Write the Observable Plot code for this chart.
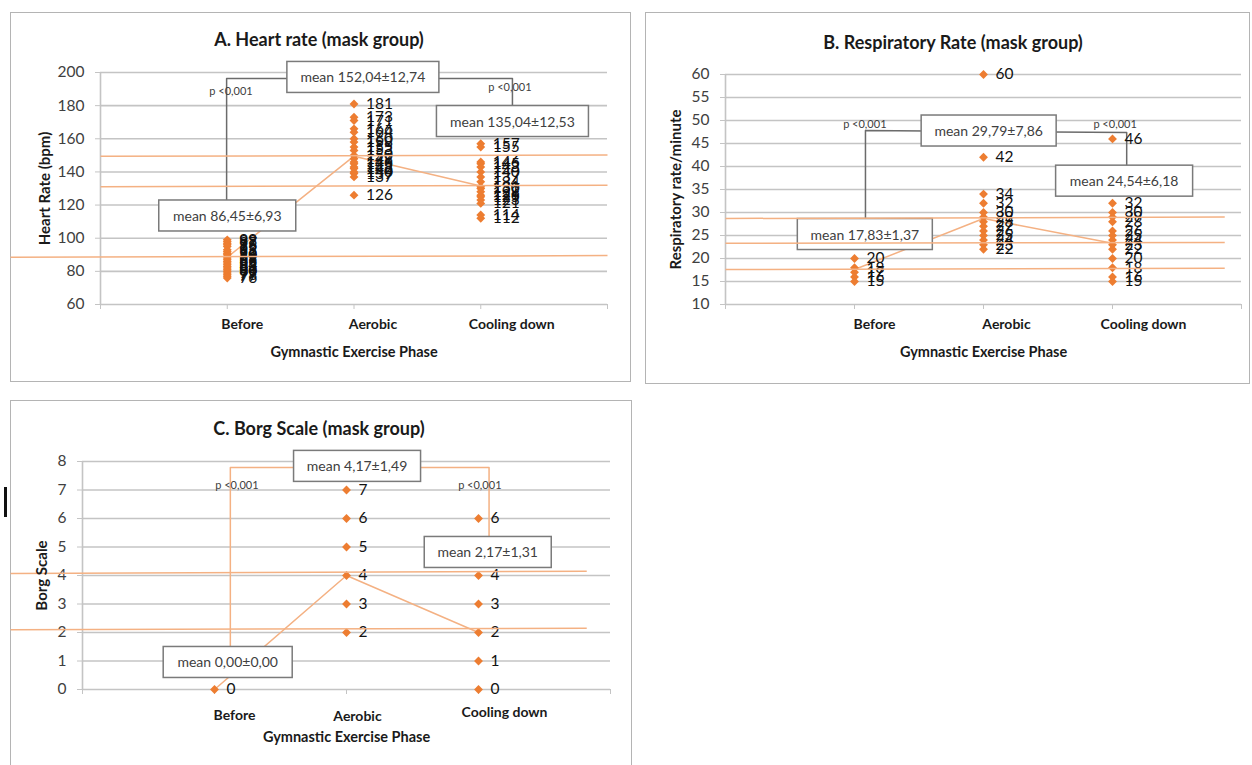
<!DOCTYPE html>
<html><head><meta charset="utf-8">
<script src="https://cdn.jsdelivr.net/npm/d3@7"></script>
<script src="https://cdn.jsdelivr.net/npm/@observablehq/plot@0.6"></script>
<style>
body{margin:0;background:#fff;}
#page{position:relative;width:1252px;height:765px;overflow:hidden;background:#fff;font-family:Lato, "Open Sans", sans-serif;}
.border{position:absolute;box-sizing:border-box;border:1.5px solid #b4b4b4;}
.title{position:absolute;font-weight:bold;font-size:18px;line-height:20px;color:#1a1a1a;white-space:nowrap;transform:translateX(-50%);}
.chart{position:absolute;}
.chart svg{overflow:visible;}
</style></head><body><div id="page"></div>
<script>
// ---------- data ----------
const phases = ["Before", "Aerobic", "Cooling down"];
const xTitle = "Gymnastic Exercise Phase";

// A. Heart rate
const hrBefore = [99, 98, 97, 96, 95, 93, 92, 91, 90, 89, 88, 87, 86, 85, 84, 83, 82, 81, 80, 79, 78, 77, 76];
const hrAerobic = [181, 173, 171, 166, 164, 160, 158, 155, 153, 150, 148, 146, 145, 143, 142, 140, 139, 137, 126];
const hrCooling = [157, 155, 146, 145, 143, 140, 137, 134, 131, 130, 128, 126, 125, 123, 121, 114, 112];
const hrMeans = ["mean 86,45±6,93", "mean 152,04±12,74", "mean 135,04±12,53"];
const hrTrend = [88.5, 149.5, 131.5];
const hrRefStart = [149.4, 131, 88.5];
const hrRefEnd = [150.2, 132, 89.5];
const hrTicks = [60, 80, 100, 120, 140, 160, 180, 200];

// B. Respiratory rate
const rrBefore = [20, 18, 17, 16, 15];
const rrAerobic = [60, 42, 34, 32, 30, 29, 28, 27, 26, 25, 24, 23, 22];
const rrCooling = [46, 32, 30, 29, 28, 26, 25, 24, 23, 22, 20, 18, 16, 15];
const rrMeans = ["mean 17,83±1,37", "mean 29,79±7,86", "mean 24,54±6,18"];
const rrTrend = [17.6, 28.7, 23.3];
const rrRefStart = [28.7, 23.3, 17.6];
const rrRefEnd = [29.0, 23.5, 17.9];
const rrTicks = [10, 15, 20, 25, 30, 35, 40, 45, 50, 55, 60];

// C. Borg scale
const borgBefore = [0];
const borgAerobic = [7, 6, 5, 4, 3, 2];
const borgCooling = [6, 4, 3, 2, 1, 0];
const borgMeans = ["mean 0,00±0,00", "mean 4,17±1,49", "mean 2,17±1,31"];
const borgTrend = [0, 4, 2];
const borgRefStart = [4.07, 2.1];
const borgRefEnd = [4.15, 2.15];
const borgTicks = [0, 1, 2, 3, 4, 5, 6, 7, 8];

const pText = "p <0,001";

// ---------- layout ----------
const ORANGE = "#ED7D31", LIGHT = "#F4B183", GRID = "#c4c4c4";
const panels = [
  {
    title: "A. Heart rate (mask group)", titleX: 319, titleY: 29,
    border: [10, 12, 621, 370],
    left: 10, top: 12, width: 621, height: 370,
    margin: [60, 24, 78, 90],
    yDomain: [60, 200], yTicks: hrTicks, yLabel: "Heart Rate (bpm)", yLabelDx: -55,
    series: [hrBefore, hrAerobic, hrCooling], means: hrMeans, trend: hrTrend,
    refStart: hrRefStart, refEnd: hrRefEnd, refX1: [0, 0, -0.71], refX2: [4, 4, 4],
    boxAt: [[1.0, 113.1], [2.07, 196.7], [3.25, 170.1]], boxW: [137, 152, 152],
    bracket: [[0.995, 113], [0.995, 196.4], [3.25, 196.4], [3.25, 170]], bracketColor: "#6b6b6b",
    pAt: [[1.03, 188.5], [3.23, 190.9]],
    catDx: [15, 19, 31], catDy: [24, 24, 24], xDy: 52
  },
  {
    title: "B. Respiratory Rate (mask group)", titleX: 953, titleY: 32,
    border: [645, 12, 605, 372],
    left: 645, top: 12, width: 605, height: 372,
    margin: [62, 9, 80, 80],
    yDomain: [10, 60], yTicks: rrTicks, yLabel: "Respiratory rate/minute", yLabelDx: -49,
    series: [rrBefore, rrAerobic, rrCooling], means: rrMeans, trend: rrTrend,
    refStart: rrRefStart, refEnd: rrRefEnd, refX1: [0, 0, 0], refX2: [3.87, 3.87, 3.87],
    boxAt: [[1.08, 25.1], [2.04, 47.6], [3.09, 36.7]], boxW: [135, 135, 137],
    bracket: [[1.085, 25], [1.085, 47.8], [3.11, 47.4], [3.11, 36.7]], bracketColor: "#6b6b6b",
    pAt: [[1.08, 49.1], [3.02, 49.1]],
    catDx: [20, 23, 31], catDy: [24, 24, 24], xDy: 52
  },
  {
    title: "C. Borg Scale (mask group)", titleX: 319, titleY: 418,
    border: [10, 400, 622, 370],
    left: 10, top: 400, width: 622, height: 365,
    margin: [61, 22, 76, 72],
    yDomain: [0, 8], yTicks: borgTicks, yLabel: "Borg Scale", yLabelDx: -40,
    series: [borgBefore, borgAerobic, borgCooling], means: borgMeans, trend: borgTrend,
    refStart: borgRefStart, refEnd: borgRefEnd, refX1: [-0.545, -0.545], refX2: [3.82, 3.82],
    boxAt: [[1.10, 0.93], [2.08, 7.81], [3.07, 4.79]], boxW: [129, 127, 127],
    bracket: [[1.12, 0.9], [1.12, 7.79], [3.08, 7.79], [3.08, 4.8]], bracketColor: LIGHT,
    pAt: [[1.17, 7.16], [3.01, 7.16]],
    catDx: [20, 11, 26], catDy: [30, 31, 27], xDy: 52
  }
];

const page = document.getElementById("page");

for (const cfg of panels) {
  const b = document.createElement("div");
  b.className = "border";
  Object.assign(b.style, {left: cfg.border[0] + "px", top: cfg.border[1] + "px", width: cfg.border[2] + "px", height: cfg.border[3] + "px"});
  page.appendChild(b);
}

for (const cfg of panels) {
  const pts = cfg.series.flatMap((vals, i) => vals.map(v => ({pos: i + 1, value: v})));
  const trend = cfg.trend.map((v, i) => ({pos: i + 1, value: v}));
  const refs = cfg.refStart.map((v, i) => ({x1: cfg.refX1[i], x2: cfg.refX2[i], y1: v, y2: cfg.refEnd[i]}));
  const boxes = cfg.means.map((t, i) => ({text: t, x: cfg.boxAt[i][0], y: cfg.boxAt[i][1], w: cfg.boxW[i]}));
  const pv = cfg.pAt.map(p => ({x: p[0], y: p[1], text: pText}));
  const [mt, mr, mb, ml] = cfg.margin;

  const catMarks = phases.map((name, i) =>
    Plot.text([i + 1], {x: d => d, frameAnchor: "bottom", text: () => name, dx: cfg.catDx[i], dy: cfg.catDy[i],
      fontWeight: "bold", fontSize: 14, fill: "#1a1a1a"}));

  const svg = Plot.plot({
    width: cfg.width, height: cfg.height,
    marginTop: mt, marginRight: mr, marginBottom: mb, marginLeft: ml,
    x: {domain: [0, 4]},
    y: {domain: cfg.yDomain},
    style: {fontFamily: "Lato, 'Open Sans', sans-serif", color: "#404040", background: "transparent", overflow: "visible"},
    marks: [
      Plot.gridY(cfg.yTicks, {stroke: GRID, strokeOpacity: 1, strokeWidth: 1.6}),
      Plot.ruleX([0], {stroke: GRID, strokeWidth: 1.6}),
      Plot.axisY({ticks: cfg.yTicks, tickSize: 5, tickPadding: 11, fontSize: 15.5, stroke: GRID, fill: "#404040", label: null}),
      Plot.axisX({ticks: [0, 1, 2, 3, 4], tickSize: 5, tickFormat: () => "", stroke: GRID, label: null}),
      Plot.line(trend, {x: "pos", y: "value", stroke: LIGHT, strokeWidth: 1.5}),
      Plot.line(cfg.bracket, {x: d => d[0], y: d => d[1], stroke: cfg.bracketColor, strokeWidth: 1.5}),
      Plot.dot(pts, {x: "pos", y: "value", symbol: "diamond2", r: 4, fill: ORANGE}),
      Plot.text(pts, {x: "pos", y: "value", text: d => String(d.value), dx: 12, textAnchor: "start", fontSize: 15.5, fill: "#111"}),
      Plot.text(boxes, {x: "x", y: "y", text: "text", fontSize: 14, fill: "#404040"}),
      Plot.link(refs, {x1: "x1", y1: "y1", x2: "x2", y2: "y2", stroke: LIGHT, strokeWidth: 1.5}),
      Plot.text(pv, {x: "x", y: "y", text: "text", fontSize: 11, fill: "#404040"}),
      ...catMarks,
      Plot.text([cfg.yLabel], {frameAnchor: "left", textAnchor: "middle", rotate: -90, dx: cfg.yLabelDx, fontWeight: "bold", fontSize: 15, fill: "#1a1a1a"}),
      Plot.text([xTitle], {frameAnchor: "bottom", dy: cfg.xDy, fontWeight: "bold", fontSize: 14.5, fill: "#1a1a1a"})
    ]
  });

  const holder = document.createElement("div");
  holder.className = "chart";
  Object.assign(holder.style, {left: cfg.left + "px", top: cfg.top + "px", width: cfg.width + "px", height: cfg.height + "px"});
  holder.appendChild(svg);
  page.appendChild(holder);

  // white boxes behind the mean labels
  const widthOf = new Map(boxes.map(b => [b.text, b.w]));
  d3.select(svg).selectAll("text").each(function () {
    const txt = this.textContent;
    if (!widthOf.has(txt)) return;
    const bb = this.getBBox();
    const w = widthOf.get(txt);
    const cx = bb.x + bb.width / 2, cy = bb.y + bb.height / 2;
    const r = document.createElementNS("http://www.w3.org/2000/svg", "rect");
    r.setAttribute("x", cx - w / 2);
    r.setAttribute("y", cy - 15.5);
    r.setAttribute("width", w);
    r.setAttribute("height", 31);
    r.setAttribute("fill", "#fff");
    r.setAttribute("stroke", "#7a7a7a");
    r.setAttribute("stroke-width", 1.5);
    const tr = this.getAttribute("transform");
    if (tr) r.setAttribute("transform", tr);
    this.parentNode.insertBefore(r, this);
  });

  const t = document.createElement("div");
  t.className = "title";
  t.textContent = cfg.title;
  Object.assign(t.style, {left: cfg.titleX + "px", top: cfg.titleY + "px"});
  page.appendChild(t);
}

// cursor artifact at the left edge
const cur = document.createElement("div");
Object.assign(cur.style, {position: "absolute", left: "4px", top: "487px", width: "3px", height: "30px", background: "#111"});
page.appendChild(cur);
</script>
</body></html>
